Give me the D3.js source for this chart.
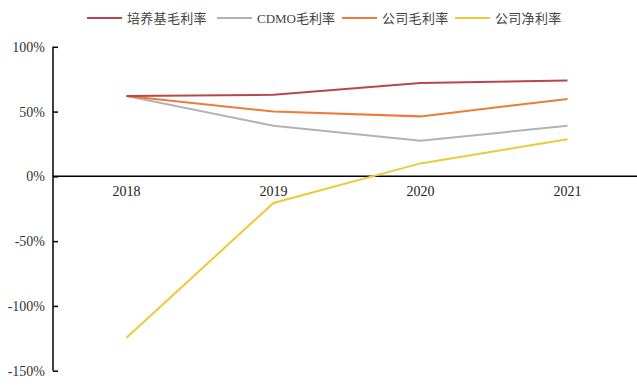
<!DOCTYPE html>
<html>
<head>
<meta charset="utf-8">
<script src="https://cdn.jsdelivr.net/npm/d3@7"></script>
<style>
  body { margin: 0; background: #fff; }
</style>
</head>
<body>
<div id="chart"></div>
<script>
// data
var years = ["2018", "2019", "2020", "2021"];
var seriesNames = ["培养基毛利率", "CDMO毛利率", "公司毛利率", "公司净利率"];
var mediumMargin = [62, 63, 72, 74];
var cdmoMargin = [62, 39, 27.5, 39];
var grossMargin = [62, 50, 46.3, 59.8];
var netMargin = [-124.5, -20.5, 10, 28.7];
var yTicks = [-150, -100, -50, 0, 50, 100];
var colors = ["#b8464e", "#b3b3b3", "#ec7c38", "#edc93a"];

var serif = "'Liberation Serif', 'Times New Roman', serif";
var svgWidth = 637;
var svgHeight = 388;

var svg = d3.select("#chart")
  .append("svg")
  .attr("width", svgWidth)
  .attr("height", svgHeight);

var xScale = d3.scaleBand()
  .domain(years)
  .range([53, 641]);

var yScale = d3.scaleLinear()
  .domain([-150, 100])
  .range([370.7, 46.8]);

// x axis along zero
var xAxis = svg.append("g")
  .attr("transform", `translate(0, ${yScale(0)})`)
  .call(d3.axisBottom(xScale).tickSize(0).tickPadding(10));
xAxis.attr("font-family", serif);
xAxis.select(".domain")
  .attr("d", `M53,0H637`)
  .attr("stroke", "#000")
  .attr("stroke-width", 1.5);
xAxis.selectAll("text")
  .attr("font-size", 14)
  .attr("fill", "#222");

// y axis
var yAxis = svg.append("g")
  .attr("transform", "translate(53, 0)")
  .call(d3.axisRight(yScale).tickValues(yTicks).tickSize(5).tickFormat(d => d + "%"));
yAxis.attr("font-family", serif);
yAxis.select(".domain")
  .attr("d", `M0,${yScale(100)}V${yScale(-150)}`)
  .attr("stroke", "#000")
  .attr("stroke-width", 1.5);
yAxis.selectAll(".tick line").attr("stroke", "#000").attr("stroke-width", 1.5);
yAxis.selectAll("text")
  .attr("x", -8)
  .attr("text-anchor", "end")
  .attr("font-size", 14)
  .attr("fill", "#333");

// lines
var allSeries = [mediumMargin, cdmoMargin, grossMargin, netMargin];
var line = d3.line()
  .x((d, i) => xScale(years[i]) + xScale.bandwidth() / 2)
  .y(d => yScale(d));

// draw net margin first so the others sit on top like the source
[3, 1, 2, 0].forEach(function(k) {
  svg.append("path")
    .datum(allSeries[k])
    .attr("fill", "none")
    .attr("stroke", colors[k])
    .attr("stroke-width", 2)
    .attr("d", line);
});

// legend
var legendX = [87, 217, 342, 455];
var legend = svg.append("g").attr("transform", "translate(0, 18)");
seriesNames.forEach(function(name, i) {
  legend.append("line")
    .attr("x1", legendX[i])
    .attr("x2", legendX[i] + 35)
    .attr("stroke", colors[i])
    .attr("stroke-width", 2);
  legend.append("text")
    .attr("x", legendX[i] + 40)
    .attr("y", 5)
    .attr("font-size", 13)
    .attr("letter-spacing", i === 1 ? 0 : 0.3)
    .attr("fill", "#444")
    .attr("font-family", "'Liberation Serif', 'Noto Sans CJK SC', serif")
    .text(name);
});
</script>
</body>
</html>
